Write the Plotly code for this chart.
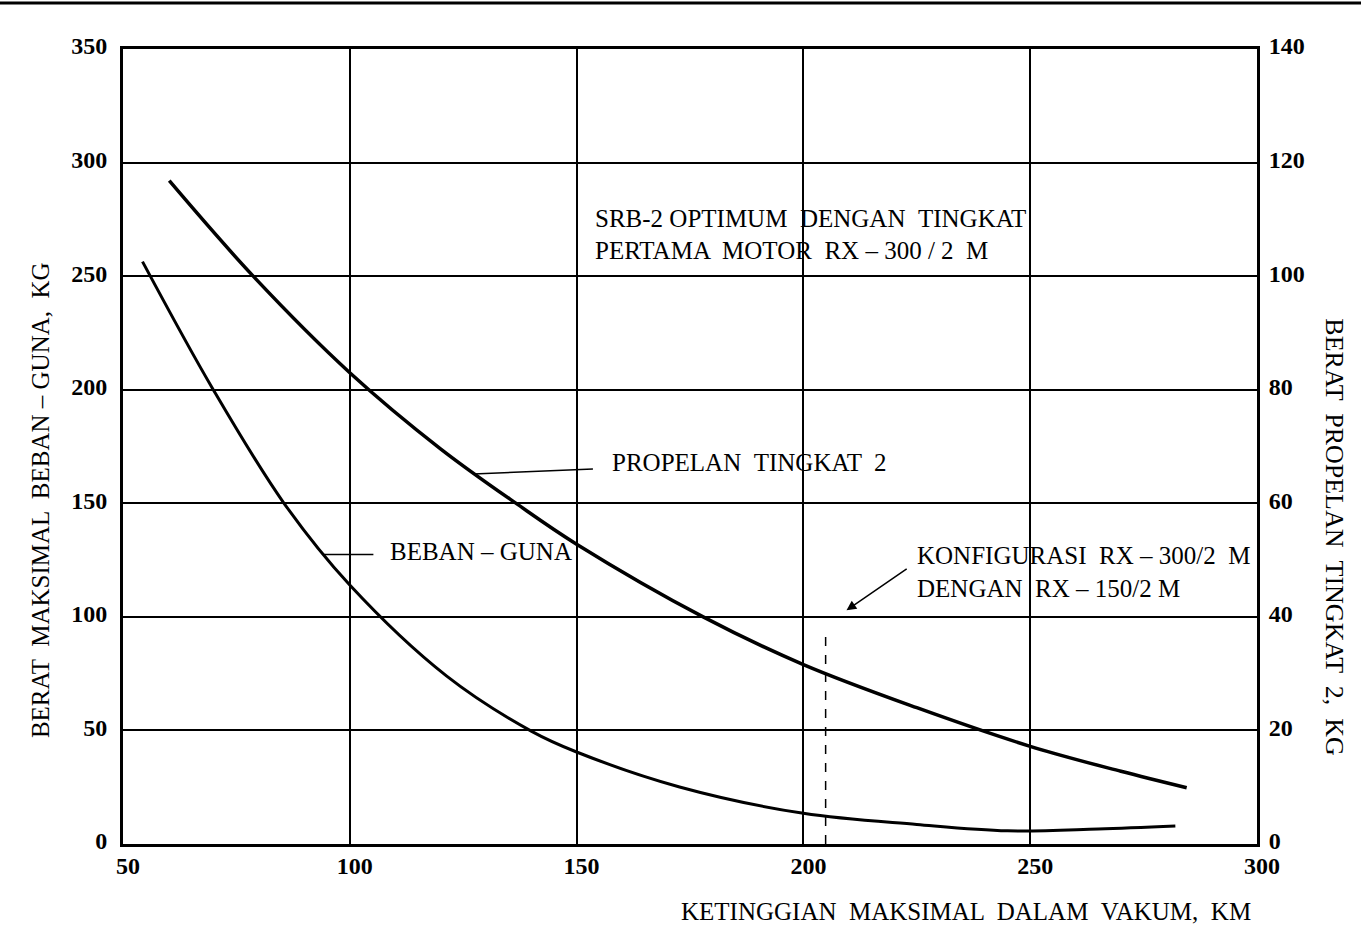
import plotly.graph_objects as go

# ---- data ----
altitude_beban = [54.3, 69.9, 85.5, 100, 121.3, 140.1, 150, 172.7, 200, 225, 245, 265, 282]
beban_guna_kg = [256.4, 200, 150, 114, 74.0, 49.6, 40.5, 25.1, 13.5, 8.6, 5.8, 6.6, 7.9]

altitude_prop = [60.2, 78.7, 100, 120, 137, 150, 177.9, 200, 225, 250, 270, 284.5]
propelan_kg = [116.8, 100, 83.0, 69.6, 59.8, 52.8, 40, 31.6, 24.0, 17.2, 12.8, 9.9]

config_altitude = 204.9
config_top = 95

x_ticks = [50, 100, 150, 200, 250, 300]
y_left_ticks = [0, 50, 100, 150, 200, 250, 300, 350]
y_right_ticks = [0, 20, 40, 60, 80, 100, 120, 140]

FONT = "Liberation Serif"
NB = "\u00a0"

fig = go.Figure()

fig.add_trace(go.Scatter(
    x=altitude_beban, y=beban_guna_kg, mode="lines",
    line=dict(color="black", width=3, shape="spline", smoothing=1.0),
    hoverinfo="skip", showlegend=False))

fig.add_trace(go.Scatter(
    x=altitude_prop, y=propelan_kg, mode="lines", yaxis="y2",
    line=dict(color="black", width=3.5, shape="spline", smoothing=1.0),
    hoverinfo="skip", showlegend=False))

fig.add_trace(go.Scatter(
    x=[config_altitude, config_altitude], y=[0, config_top], mode="lines",
    line=dict(color="black", width=1.5, dash="dash"),
    hoverinfo="skip", showlegend=False))

tickfont = dict(family=FONT, size=24, color="black", weight="bold")

fig.update_layout(
    width=1361, height=933,
    margin=dict(l=123, r=104, t=49, b=89),
    paper_bgcolor="white", plot_bgcolor="white",
    showlegend=False,
    xaxis=dict(range=[50, 300], tickvals=x_ticks, ticks="", showgrid=True,
               gridcolor="black", gridwidth=1.8, showline=True, linecolor="black",
               linewidth=3, mirror=True, zeroline=False, tickfont=tickfont,
               ticklabelstandoff=-2, ticklabelshift=5),
    yaxis=dict(range=[0, 350], tickvals=y_left_ticks, ticks="", showgrid=True,
               gridcolor="black", gridwidth=1.8, showline=True, linecolor="black",
               linewidth=3, zeroline=False, tickfont=tickfont, ticklabelstandoff=8,
               ticklabelshift=-3),
    yaxis2=dict(range=[0, 140], tickvals=y_right_ticks, ticks="", overlaying="y",
                side="right", showgrid=False, showline=True, linecolor="black",
                linewidth=3, zeroline=False, tickfont=tickfont, ticklabelstandoff=4,
                ticklabelshift=-3),
)

afont = dict(family=FONT, size=25, color="black")

def note(text, x, y, xanchor="left", **kw):
    fig.add_annotation(text=text, x=x, y=y, xref="x", yref="y", showarrow=False,
                       xanchor=xanchor, yanchor="middle", font=afont, **kw)

note(f"SRB-2 OPTIMUM {NB}DENGAN {NB}TINGKAT", 153.6, 275.2)
note(f"PERTAMA {NB}MOTOR {NB}RX – 300 / 2 {NB}M", 153.6, 261.1)
note(f"PROPELAN {NB}TINGKAT {NB}2", 157.3, 168.1)
note("BEBAN – GUNA", 108.4, 128.9)
note(f"KONFIGURASI {NB}RX – 300/2 {NB}M", 224.5, 127.2)
note(f"DENGAN {NB}RX – 150/2 M", 224.5, 112.7)

# leader lines
fig.add_shape(type="line", xref="x", yref="y", x0=127.2, y0=162.9, x1=153.6, y1=165.1,
              line=dict(color="black", width=1.5))
fig.add_shape(type="line", xref="x", yref="y", x0=94.1, y0=127.5, x1=105.2, y1=127.5,
              line=dict(color="black", width=1.5))

# arrow to configuration line
fig.add_annotation(x=209.5, y=102.9, ax=223.1, ay=121.6, xref="x", yref="y",
                   axref="x", ayref="y", text="", showarrow=True, arrowhead=2,
                   arrowsize=1.3, arrowwidth=1.5, arrowcolor="black")

# axis titles
tfont = dict(family=FONT, size=25, color="black")
fig.add_annotation(text=f"BERAT {NB}MAKSIMAL {NB}BEBAN – GUNA, {NB}KG", xref="paper", yref="paper",
                   x=-0.0732, y=0.4326, textangle=-90, showarrow=False,
                   xanchor="center", yanchor="middle", font=tfont)
fig.add_annotation(text=f"BERAT {NB}PROPELAN {NB}TINGKAT {NB}2, {NB}KG", xref="paper", yref="paper",
                   x=1.0688, y=0.387, textangle=90, showarrow=False,
                   xanchor="center", yanchor="middle", font=dict(family=FONT, size=26, color="black"))
fig.add_annotation(text=f"KETINGGIAN {NB}MAKSIMAL {NB}DALAM {NB}VAKUM, {NB}KM", xref="paper", yref="paper",
                   x=0.9965, y=-0.0847, showarrow=False,
                   xanchor="right", yanchor="middle", font=tfont)

# scan border line at top of page
fig.add_shape(type="line", xref="paper", yref="paper", x0=-123/1134, x1=1238/1134,
              y0=1.058, y1=1.058, line=dict(color="black", width=3))

fig.write_html("out.html")
